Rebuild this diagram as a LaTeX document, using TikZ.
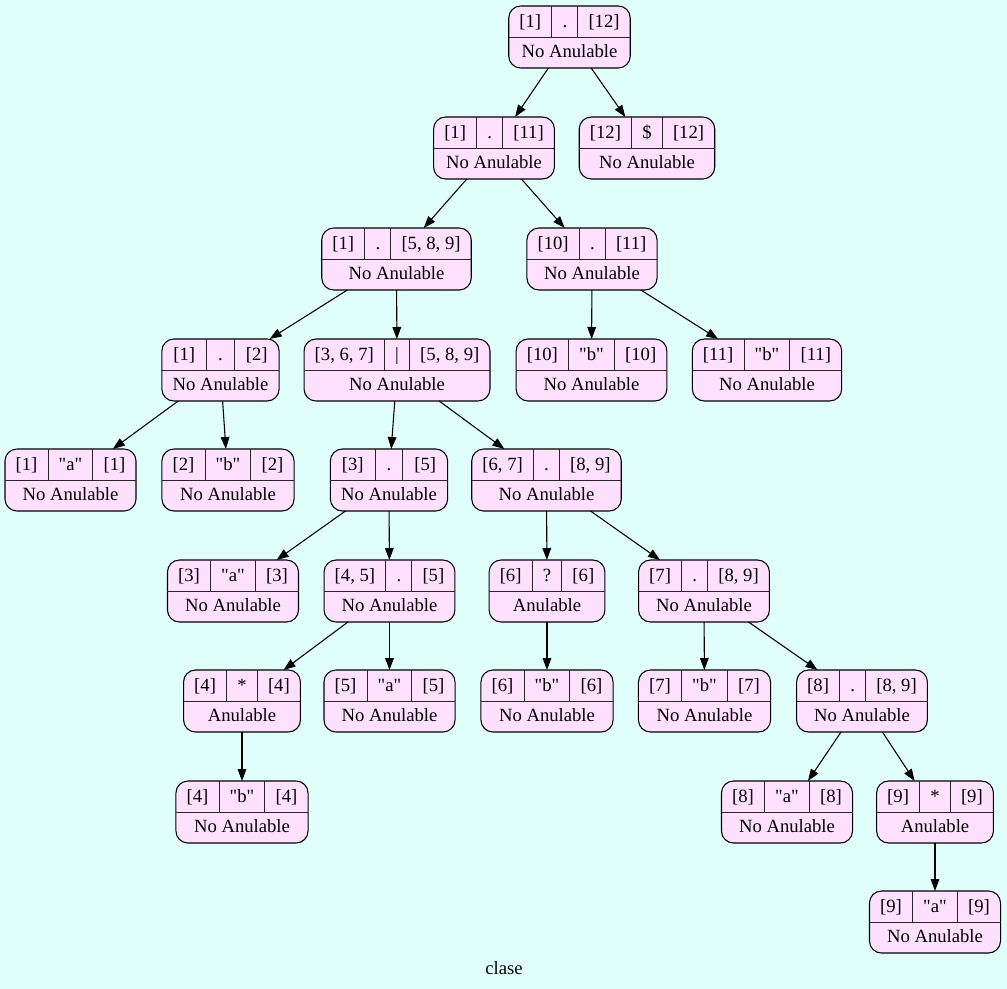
\documentclass[tikz,border=0pt]{standalone}
\usepackage{fontspec}
\setmainfont{Liberation Serif}
\usetikzlibrary{arrows.meta}
\definecolor{bgcol}{HTML}{E0FFFA}
\definecolor{recfill}{HTML}{FFE1FF}
\newdimen\recw
\newcommand\recfont{\fontsize{14pt}{16pt}\selectfont}
\newcommand\q{\textquotedbl}
\tikzset{
  record/.style={draw, fill=recfill, rounded corners=9pt, minimum height=46.5pt,
    inner sep=0pt, outer sep=0pt, line width=0.8pt},
  sep/.style={line width=0.7pt, draw=black!85},
  field/.style={inner sep=0pt, anchor=base, font=\recfont},
  link/.style={line width=0.8pt, -{Triangle[length=9pt,width=6.5pt]}},
}
% text width of a field, in pixels (1px = 0.75pt) plus the field padding
\newcommand\fieldwidth[2]{%
  \pgfinterruptpicture
    \setbox0=\hbox{\normalfont\recfont #2}\global\recw=\wd0
  \endpgfinterruptpicture
  \pgfmathsetmacro#1{\the\recw/0.75+64/3}}
% record node: name, centre x, top y, three upper fields, lower field
\newcommand\recordnode[7]{%
  \fieldwidth\ca{#4}\fieldwidth\cb{#5}\fieldwidth\cc{#6}\fieldwidth\cd{#7}%
  \pgfmathsetmacro\tw{\ca+\cb+\cc}%
  \pgfmathsetmacro\ex{max(0,(\cd-\tw)/3)}%
  \pgfmathsetmacro\W{max(\tw,\cd)}%
  \pgfmathsetmacro\xl{#2-\W/2}%
  \pgfmathsetmacro\xa{\xl+\ca+\ex}%
  \pgfmathsetmacro\xb{\xa+\cb+\ex}%
  \pgfmathsetmacro\xr{\xl+\W}%
  \node[record, minimum width=\W*0.75pt] (#1) at (#2,#3+31) {};
  \draw[sep] (\xl,#3+31) -- (\xr,#3+31);
  \draw[sep] (\xa,#3) -- (\xa,#3+31);
  \draw[sep] (\xb,#3) -- (\xb,#3+31);
  \node[field] (#1-l) at ({(\xl+\xa)/2},#3+21.5) {#4};
  \node[field] (#1-m) at ({(\xa+\xb)/2},#3+21.5) {#5};
  \node[field] (#1-r) at ({(\xb+\xr)/2},#3+21.5) {#6};
  \node[field] (#1-b) at (#2,#3+51.5) {#7};
}
\begin{document}
\begin{tikzpicture}[x=0.75pt,y=-0.75pt]
\fill[bgcol] (0,0) rectangle (1007,989);
\useasboundingbox (0,0) rectangle (1007,989);

\recordnode{n1}{569.5}{6}{[1]}{.}{[12]}{No Anulable}
\recordnode{n2}{494}{117}{[1]}{.}{[11]}{No Anulable}
\recordnode{n3}{647}{117}{[12]}{\$}{[12]}{No Anulable}
\recordnode{n4}{396.5}{228}{[1]}{.}{[5, 8, 9]}{No Anulable}
\recordnode{n5}{592}{228}{[10]}{.}{[11]}{No Anulable}
\recordnode{n6}{220.5}{339}{[1]}{.}{[2]}{No Anulable}
\recordnode{n7}{397}{339}{[3, 6, 7]}{|}{[5, 8, 9]}{No Anulable}
\recordnode{n8}{591.5}{339}{[10]}{\q b\q}{[10]}{No Anulable}
\recordnode{n9}{767}{339}{[11]}{\q b\q}{[11]}{No Anulable}
\recordnode{n10}{70.5}{449}{[1]}{\q a\q}{[1]}{No Anulable}
\recordnode{n11}{228}{449}{[2]}{\q b\q}{[2]}{No Anulable}
\recordnode{n12}{389}{449}{[3]}{.}{[5]}{No Anulable}
\recordnode{n13}{546.5}{449}{[6, 7]}{.}{[8, 9]}{No Anulable}
\recordnode{n14}{233}{560}{[3]}{\q a\q}{[3]}{No Anulable}
\recordnode{n15}{389.5}{560}{[4, 5]}{.}{[5]}{No Anulable}
\recordnode{n16}{547}{560}{[6]}{?}{[6]}{Anulable}
\recordnode{n17}{704}{560}{[7]}{.}{[8, 9]}{No Anulable}
\recordnode{n18}{242}{670}{[4]}{*}{[4]}{Anulable}
\recordnode{n19}{389.5}{670}{[5]}{\q a\q}{[5]}{No Anulable}
\recordnode{n20}{547}{670}{[6]}{\q b\q}{[6]}{No Anulable}
\recordnode{n21}{704.5}{670}{[7]}{\q b\q}{[7]}{No Anulable}
\recordnode{n22}{862}{670}{[8]}{.}{[8, 9]}{No Anulable}
\recordnode{n23}{242}{781}{[4]}{\q b\q}{[4]}{No Anulable}
\recordnode{n24}{787}{781}{[8]}{\q a\q}{[8]}{No Anulable}
\recordnode{n25}{935}{781}{[9]}{*}{[9]}{Anulable}
\recordnode{n26}{935}{891}{[9]}{\q a\q}{[9]}{No Anulable}

\foreach \a/\b in {n1/n2, n1/n3, n2/n4, n2/n5, n4/n6, n4/n7, n5/n8, n5/n9,
  n6/n10, n6/n11, n7/n12, n7/n13, n12/n14, n12/n15, n13/n16, n13/n17,
  n15/n18, n15/n19, n16/n20, n17/n21, n17/n22, n18/n23, n22/n24, n22/n25,
  n25/n26}
  \draw[link] (\a) -- (\b);

\node[field] (caption) at (504,974) {clase};
\end{tikzpicture}
\end{document}
